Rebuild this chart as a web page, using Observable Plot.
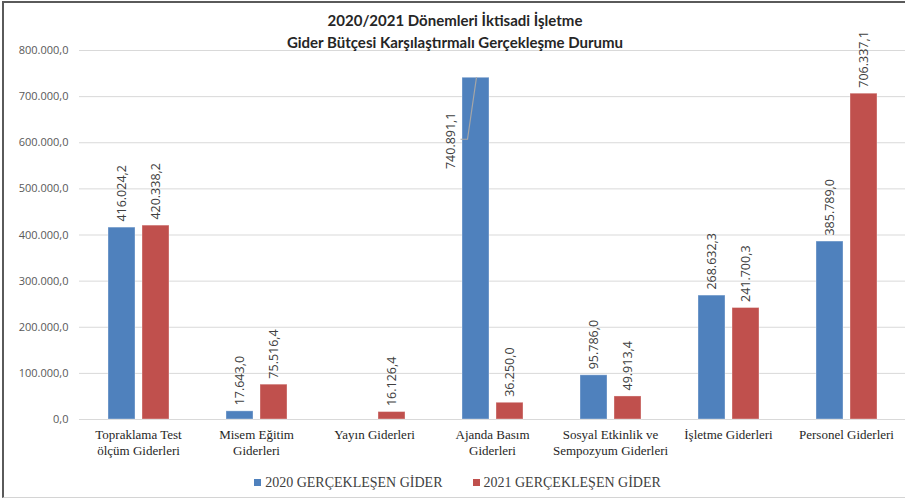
<!DOCTYPE html>
<html>
<head>
<meta charset="utf-8">
<script src="https://cdn.jsdelivr.net/npm/d3@7"></script>
<script src="https://cdn.jsdelivr.net/npm/@observablehq/plot@0.6"></script>
<style>
  body { margin: 0; background: #fff; }
  #wrap { position: relative; width: 905px; height: 499px; overflow: hidden; background: #fff; }
  #chart svg { display: block; }
  #frame { position: absolute; left: 2px; top: 1px; width: 920px; height: 497px; box-sizing: border-box;
           border-left: 2px solid #5a5a5a; border-top: 2px solid #5a5a5a; border-bottom: 1px solid #d4d4d4; pointer-events: none; }
  #title { position: absolute; top: 9px; left: 0; width: 910px; text-align: center;
           font: bold 15px Lato, "Open Sans", sans-serif; line-height: 22px; color: #262626; }
  #legend { height: 29px; display: flex; justify-content: center; align-items: center; gap: 30px;
            font: 14px "Liberation Serif", serif; color: #404040; padding-left: 10px; padding-bottom: 4px; box-sizing: border-box; }
  #legend .item { display: flex; align-items: center; gap: 4px; }
  #legend .sw { width: 7px; height: 7px; display: inline-block; }
</style>
</head>
<body>
<div id="wrap">
  <div id="chart"></div>
  <div id="legend"></div>
  <div id="title">2020/2021 Dönemleri İktisadi İşletme<br>Gider Bütçesi Karşılaştırmalı Gerçekleşme Durumu</div>
  <div id="frame"></div>
</div>
<script>
const categories = [
  "Topraklama Test ölçüm Giderleri",
  "Misem Eğitim Giderleri",
  "Yayın Giderleri",
  "Ajanda Basım Giderleri",
  "Sosyal Etkinlik ve Sempozyum Giderleri",
  "İşletme Giderleri",
  "Personel Giderleri"
];
const tickLabels = [
  "Topraklama Test\nölçüm Giderleri",
  "Misem Eğitim\nGiderleri",
  "Yayın Giderleri",
  "Ajanda Basım\nGiderleri",
  "Sosyal Etkinlik ve\nSempozyum Giderleri",
  "İşletme Giderleri",
  "Personel Giderleri"
];
const series = ["2020 GERÇEKLEŞEN GİDER", "2021 GERÇEKLEŞEN GİDER"];
const values2020 = [416024.2, 17643.0, null, 740891.1, 95786.0, 268632.3, 385789.0];
const values2021 = [420338.2, 75516.4, 16126.4, 36250.0, 49913.4, 241700.3, 706337.1];
const yTicks = [0, 100000, 200000, 300000, 400000, 500000, 600000, 700000, 800000];
const colors = ["#4F81BD", "#C0504D"];

const data = categories.flatMap((c, i) => [
  {category: c, series: series[0], value: values2020[i]},
  {category: c, series: series[1], value: values2021[i]}
]).filter(d => d.value != null);

const tr = d3.formatLocale({decimal: ",", thousands: ".", grouping: [3], currency: ["", "₺"]});
const fmt = tr.format(",.1f");
// the tallest bar's label is moved to the left of the bar, with a leader line
const moved = d => d.value > 720000;

const chart = Plot.plot({
  width: 905,
  height: 470,
  marginLeft: 79,
  marginRight: 0,
  marginTop: 50,
  marginBottom: 51,
  style: {background: "transparent"},
  fx: {domain: categories, paddingInner: 0, paddingOuter: 0},
  x: {domain: series, paddingInner: 0.206, paddingOuter: 0.838, axis: null},
  y: {domain: [0, 800000]},
  color: {domain: series, range: colors},
  marks: [
    Plot.gridY(yTicks, {stroke: "#d9d9d9", strokeOpacity: 1, strokeWidth: 1}),
    Plot.axisY(yTicks, {tickSize: 0, tickPadding: 11, tickFormat: fmt, label: null,
      fontSize: 11, fill: "#595959", fontFamily: "'Open Sans', sans-serif"}),
    Plot.axisFx({anchor: "bottom", tickSize: 0, tickPadding: 8, label: null, lineAnchor: "top",
      tickFormat: d => tickLabels[categories.indexOf(d)],
      fontSize: 13, lineHeight: 1.22, fill: "#262626", fontFamily: "'Liberation Serif', serif"}),
    Plot.barY(data, {fx: "category", x: "series", y: "value", fill: "series",
      stroke: "#ffffff", strokeOpacity: 0.35, strokeWidth: 1}),
    Plot.text(data.filter(d => !moved(d)), {fx: "category", x: "series", y: "value",
      text: d => fmt(d.value), rotate: -90, textAnchor: "start", dy: -6,
      fontSize: 12.5, fill: "#404040", fontFamily: "'Open Sans', sans-serif"}),
    Plot.text(data.filter(moved), {fx: "category", x: "series", y: "value",
      text: d => fmt(d.value), rotate: -90, textAnchor: "middle", dx: -25, dy: 63,
      fontSize: 12.5, fill: "#404040", fontFamily: "'Open Sans', sans-serif"}),
    Plot.dot(data.filter(moved), {fx: "category", x: "series", y: "value",
      render: (index, scales, values) => {
        const g = d3.create("svg:g");
        const bw = scales.x.bandwidth ? scales.x.bandwidth() : 0;
        for (const i of index) {
          const cx = values.x[i] + bw / 2;
          const cy = values.y[i];
          g.append("path")
            .attr("d", `M${cx - 15},${cy + 62}H${cx - 8}L${cx + 1},${cy}`)
            .attr("fill", "none").attr("stroke", "#a6a6a6").attr("stroke-width", 1.2);
        }
        return g.node();
      }})
  ]
});
document.getElementById("chart").appendChild(chart);

const legend = document.getElementById("legend");
series.forEach((s, i) => {
  const item = document.createElement("span");
  item.className = "item";
  const sw = document.createElement("span");
  sw.className = "sw";
  sw.style.background = colors[i];
  const t = document.createElement("span");
  t.textContent = s;
  item.appendChild(sw);
  item.appendChild(t);
  legend.appendChild(item);
});
</script>
</body>
</html>
